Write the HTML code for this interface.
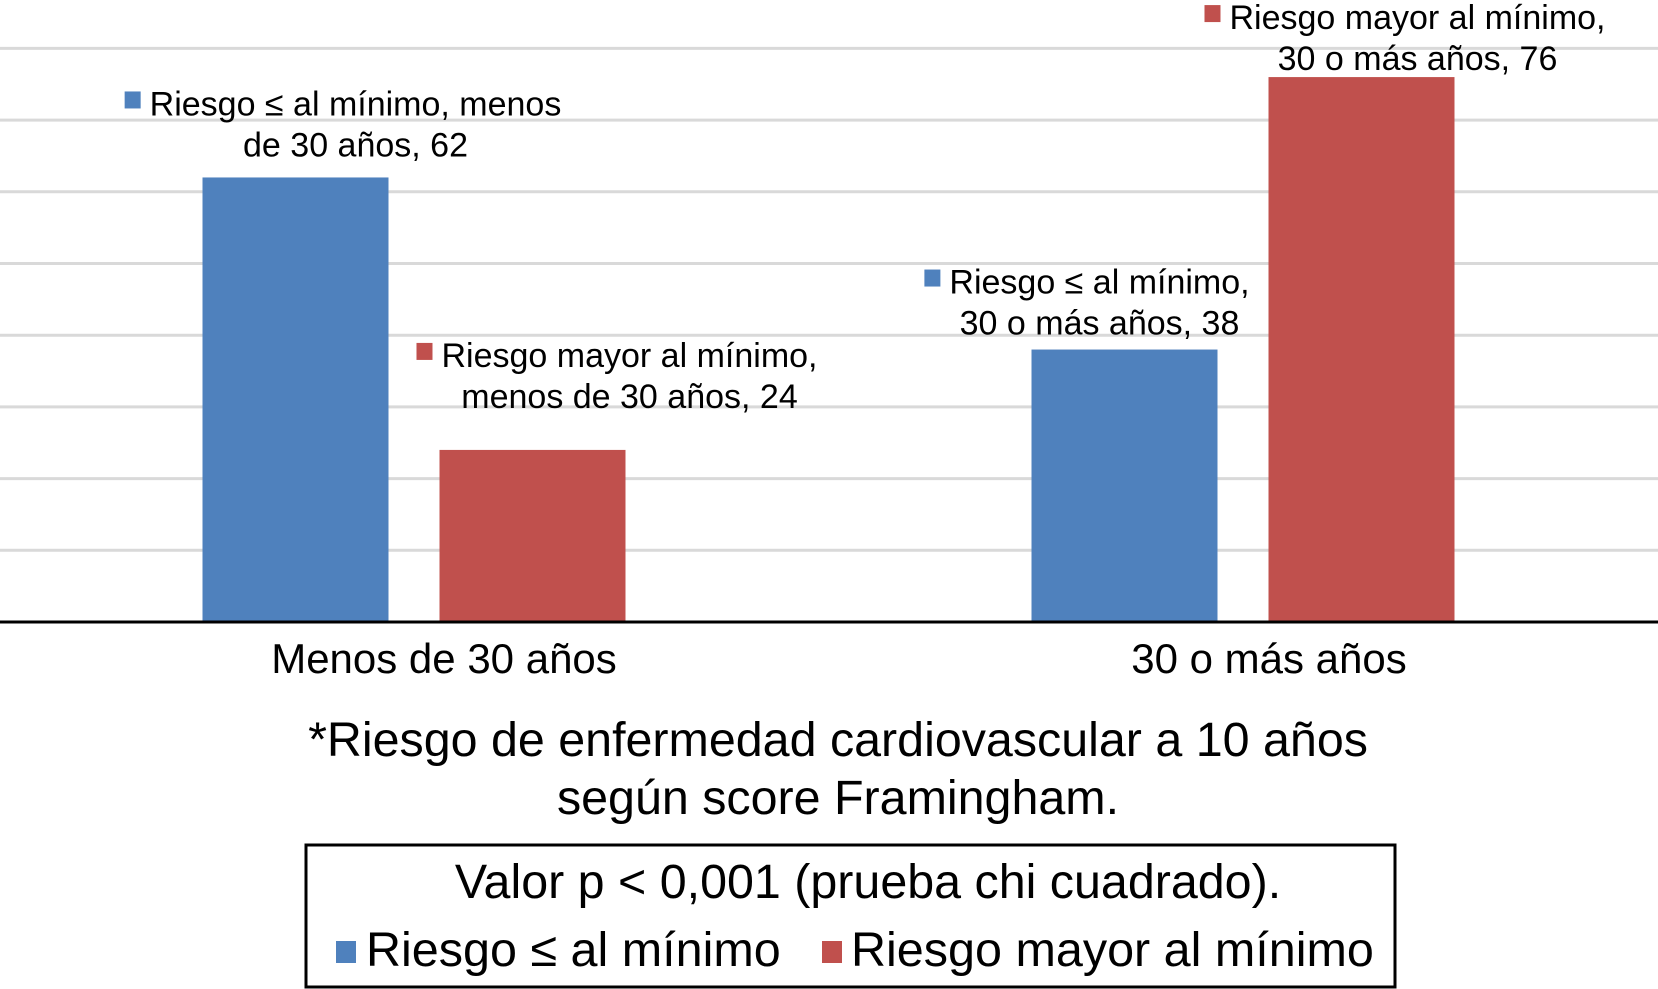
<!DOCTYPE html>
<html><head><meta charset="utf-8"><style>
html,body{margin:0;padding:0;background:#fff;}
svg{display:block;font-family:"Liberation Sans",Arial,sans-serif;}
</style></head><body>
<svg id="chart" width="1658" height="989" viewBox="0 0 1658 989" xmlns="http://www.w3.org/2000/svg">
<g id="grid"></g><g id="bars"></g><g id="labels"></g>
<line x1="0" y1="622" x2="1658" y2="622" stroke="#000" stroke-width="3"/>
<text x="838" y="756" font-size="48.4" text-anchor="middle" fill="#000">*Riesgo de enfermedad cardiovascular a 10 años</text>
<text x="838" y="814" font-size="48.4" text-anchor="middle" fill="#000">según score Framingham.</text>
<rect x="306" y="845" width="1089" height="142" fill="none" stroke="#000" stroke-width="3"/>
<text x="868" y="898" font-size="48.4" text-anchor="middle" fill="#000">Valor p &lt; 0,001 (prueba chi cuadrado).</text>
<g>
<rect x="336" y="941" width="20" height="22" fill="#4f81bd"/>
<text x="366" y="966" font-size="48.5" fill="#000">Riesgo ≤ al mínimo</text></g>
<g>
<rect x="822" y="941" width="20" height="22" fill="#c0504d"/>
<text x="851" y="966" font-size="48.5" fill="#000">Riesgo mayor al mínimo</text></g>
</svg>
<script>
const categories=["Menos de 30 años","30 o más años"];
const seriesLow=[62,38];
const seriesHigh=[24,76];
const gridTicks=[10,20,30,40,50,60,70,80];
const labelLow=[["Riesgo ≤ al mínimo, menos","de 30 años, "],["Riesgo ≤ al mínimo,","30 o más años, "]];
const labelHigh=[["Riesgo mayor al mínimo,","menos de 30 años, "],["Riesgo mayor al mínimo,","30 o más años, "]];
const NS="http://www.w3.org/2000/svg";
const y0=622,unit=7.17;
function yScale(v){return y0-v*unit;}
const catCenter=[414,1243];
const barW=186,gap=51;
function mk(tag,attrs,parent){const e=document.createElementNS(NS,tag);for(const k in attrs)e.setAttribute(k,attrs[k]);parent.appendChild(e);return e;}
const grid=document.getElementById('grid'),bars=document.getElementById('bars'),labels=document.getElementById('labels');
gridTicks.forEach(t=>{const l=mk('line',{x1:0,x2:1658,y1:yScale(t),y2:yScale(t),stroke:'#d9d9d9','stroke-width':3},grid);

});
function drawBar(v,x,color,name){const r=mk('rect',{x:x,y:yScale(v),width:barW,height:v*unit,fill:color},bars);

}
function drawLabel(lines,v,cx,dy,color,name){
const g=mk('g',{},labels);


const top=yScale(v)+dy;
const t1=mk('text',{x:cx,y:top-62,'font-size':34,'text-anchor':'middle',fill:'#000'},g);t1.textContent=lines[0];
const t2=mk('text',{x:cx,y:top-21,'font-size':34,'text-anchor':'middle',fill:'#000'},g);t2.textContent=lines[1]+v;
const w=t1.getComputedTextLength?t1.getComputedTextLength():330;
mk('rect',{x:cx-w/2-25,y:top-86,width:16,height:17,fill:color},g);}
categories.forEach((c,i)=>{
const xl=catCenter[i]-gap/2-barW,xh=catCenter[i]+gap/2;
drawBar(seriesLow[i],xl,'#4f81bd','bar-low-'+i);
drawBar(seriesHigh[i],xh,'#c0504d','bar-high-'+i);
drawLabel(labelLow[i],seriesLow[i],xl+barW/2+([60,-25][i]),[0,6][i],'#4f81bd','data-label-low-'+i);
drawLabel(labelHigh[i],seriesHigh[i],xh+barW/2+([97,56][i]),[-21,14][i],'#c0504d','data-label-high-'+i);
const ct=mk('text',{x:[444,1269][i],y:673,'font-size':42,'text-anchor':'middle',fill:'#000'},labels);


ct.textContent=c;});
</script>
</body></html>
